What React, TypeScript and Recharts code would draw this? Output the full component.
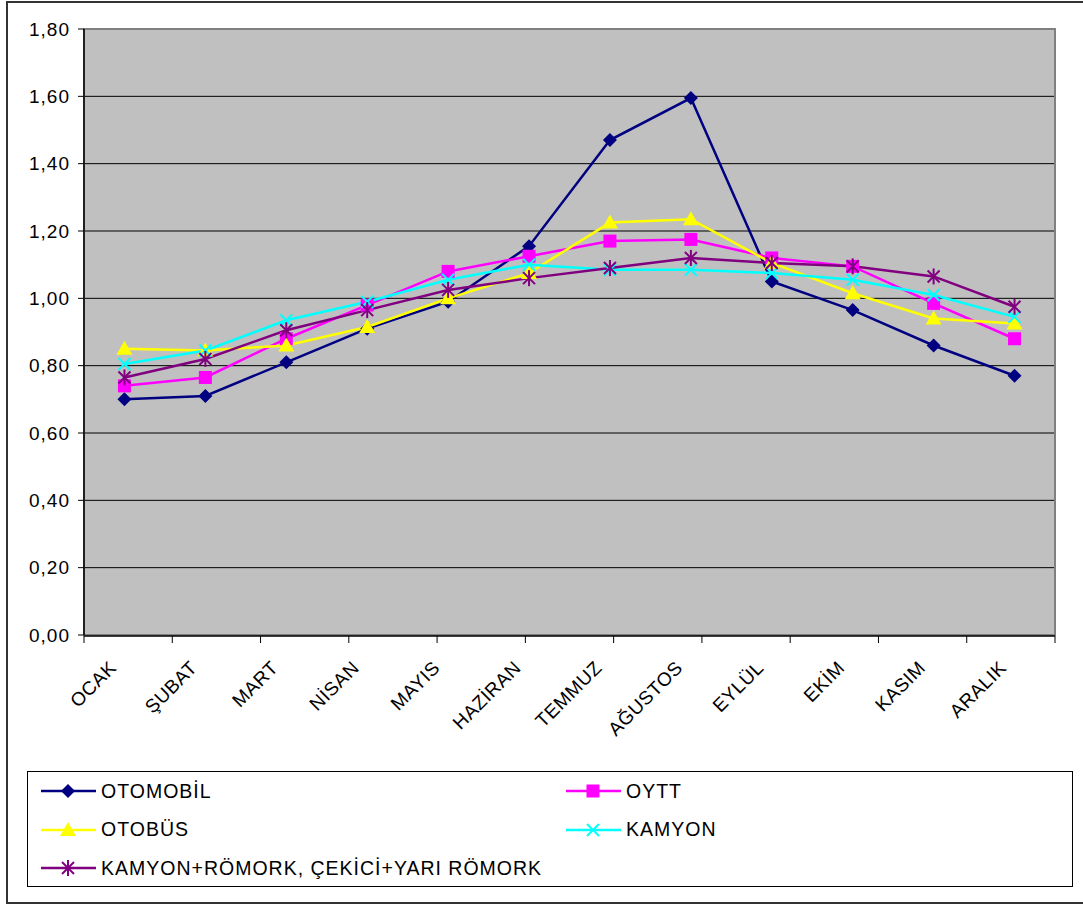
import React from "react";
import {
  CartesianGrid,
  Legend,
  Line,
  LineChart,
  ReferenceArea,
  XAxis,
  YAxis,
} from "recharts";

const months = ["OCAK", "ŞUBAT", "MART", "NİSAN", "MAYIS", "HAZİRAN", "TEMMUZ", "AĞUSTOS", "EYLÜL", "EKİM", "KASIM", "ARALIK"];
const otomobil = [0.70, 0.71, 0.81, 0.91, 0.99, 1.155, 1.47, 1.595, 1.05, 0.965, 0.86, 0.77];
const oytt = [0.74, 0.765, 0.88, 0.98, 1.08, 1.125, 1.17, 1.175, 1.12, 1.095, 0.985, 0.88];
const otobus = [0.85, 0.845, 0.86, 0.915, 1.0, 1.075, 1.225, 1.235, 1.105, 1.015, 0.94, 0.925];
const kamyon = [0.805, 0.845, 0.935, 0.99, 1.055, 1.10, 1.085, 1.085, 1.075, 1.055, 1.01, 0.945];
const kamyonRomork = [0.765, 0.82, 0.905, 0.965, 1.025, 1.06, 1.09, 1.12, 1.105, 1.095, 1.065, 0.975];

const yTicks = [0, 0.2, 0.4, 0.6, 0.8, 1.0, 1.2, 1.4, 1.6, 1.8];
const gridValues = [0.2, 0.4, 0.6, 0.8, 1.0, 1.2, 1.4, 1.6];
const edgeTicks = [0, 1, 2, 3, 4, 5, 6, 7, 8, 9, 10, 11, 12];

const series = [
  { key: "otomobil", name: "OTOMOBİL", color: "#000080", shape: "diamond", values: otomobil },
  { key: "oytt", name: "OYTT", color: "#FF00FF", shape: "square", values: oytt },
  { key: "otobus", name: "OTOBÜS", color: "#FFFF00", shape: "triangle", values: otobus },
  { key: "kamyon", name: "KAMYON", color: "#00FFFF", shape: "x", values: kamyon },
  { key: "kamyonRomork", name: "KAMYON+RÖMORK, ÇEKİCİ+YARI RÖMORK", color: "#800080", shape: "star", values: kamyonRomork },
];

const data = months.map((m, i) => {
  const row: Record<string, string | number> = { month: m };
  series.forEach((s) => (row[s.key] = s.values[i]));
  return row;
});

const FONT = "'Liberation Sans', Arial, sans-serif";

function Marker({ cx, cy, shape, color }: { cx: number; cy: number; shape: string; color: string }) {
  if (shape === "diamond")
    return <polygon points={`${cx},${cy - 7} ${cx + 7},${cy} ${cx},${cy + 7} ${cx - 7},${cy}`} fill={color} />;
  if (shape === "square") return <rect x={cx - 6.5} y={cy - 6.5} width={13} height={13} fill={color} />;
  if (shape === "triangle")
    return <polygon points={`${cx},${cy - 8} ${cx + 8},${cy + 6} ${cx - 8},${cy + 6}`} fill={color} />;
  if (shape === "x")
    return (
      <g stroke={color} strokeWidth={2}>
        <line x1={cx - 6} y1={cy - 6} x2={cx + 6} y2={cy + 6} />
        <line x1={cx - 6} y1={cy + 6} x2={cx + 6} y2={cy - 6} />
      </g>
    );
  return (
    <g stroke={color} strokeWidth={2}>
      <line x1={cx - 6} y1={cy - 6} x2={cx + 6} y2={cy + 6} />
      <line x1={cx - 6} y1={cy + 6} x2={cx + 6} y2={cy - 6} />
      <line x1={cx} y1={cy - 8} x2={cx} y2={cy + 8} />
    </g>
  );
}

const MonthTick = (props: any) => {
  const { x, y, payload } = props;
  const ax = x - 7;
  const ay = y + 34;
  return (
    <text
      x={ax}
      y={ay}
      transform={`rotate(-45 ${ax} ${ay})`}
      textAnchor="end"
      fontSize={19}
      letterSpacing={0.5}
      fontFamily={FONT}
      fill="#000"
    >
      {payload.value}
    </text>
  );
};

const LegendBox = () => (
  <div style={{ position: "relative", width: 1046, height: 116, border: "1px solid #000", boxSizing: "border-box", background: "#fff" }}>
    {series.map((s, i) => {
      const row = Math.floor(i / 2);
      const col = i % 2;
      return (
        <div
          key={s.key}
          style={{
            position: "absolute",
            left: 13 + col * 525,
            top: 19 + row * 38.5 - 12,
            height: 24,
            display: "flex",
            alignItems: "center",
            whiteSpace: "nowrap",
            fontFamily: FONT,
            fontSize: 19.5,
            letterSpacing: 1,
            color: "#000",
          }}
        >
          <svg width={60} height={24} style={{ display: "block" }}>
            <line x1={0} y1={12} x2={55} y2={12} stroke={s.color} strokeWidth={2.5} />
            <Marker cx={27} cy={12} shape={s.shape} color={s.color} />
          </svg>
          <span>{s.name}</span>
        </div>
      );
    })}
  </div>
);

export default function App() {
  return (
    <div style={{ position: "fixed", left: 0, top: 0, width: 1083, height: 906, background: "#fff", overflow: "hidden" }}>
      <div style={{ position: "absolute", left: 6, top: 1, width: 1100, height: 903, border: "2px solid #333", boxSizing: "border-box" }} />
      <div style={{ position: "absolute", left: 0, top: 0 }}>
        <LineChart width={1083} height={906} data={data} margin={{ top: 29, right: 28, left: 0, bottom: 141 }}>
          <CartesianGrid fill="#C0C0C0" vertical={false} stroke="#000" horizontalValues={gridValues} />
          <ReferenceArea y1={0} y2={1.8} fill="none" stroke="#808080" strokeWidth={2} />
          <XAxis
            dataKey="month"
            scale="band"
            interval={0}
            height={1}
            tickLine={false}
            axisLine={false}
            tickSize={0}
            tickMargin={0}
            tick={<MonthTick />}
          />
          <XAxis
            xAxisId="edge"
            type="number"
            domain={[0, 12]}
            ticks={edgeTicks}
            allowDataOverflow
            height={129}
            axisLine={{ stroke: "#000", strokeWidth: 1.5 }}
            tickLine={{ stroke: "#000" }}
            tickSize={7}
            tickFormatter={() => ""}
          />
          <YAxis
            width={84}
            domain={[0, 1.8]}
            ticks={yTicks}
            interval={0}
            tickSize={6}
            tickMargin={8}
            axisLine={{ stroke: "#000", strokeWidth: 1.5 }}
            tickLine={{ stroke: "#000" }}
            tick={{ fill: "#000", fontSize: 19, fontFamily: FONT, letterSpacing: 1 }}
            tickFormatter={(v: number) => v.toFixed(2).replace(".", ",")}
          />
          {series.map((s) => (
            <Line
              key={s.key}
              dataKey={s.key}
              name={s.name}
              type="linear"
              stroke={s.color}
              strokeWidth={2.5}
              isAnimationActive={false}
              dot={(p: any) => <Marker key={`${s.key}-${p.index}`} cx={p.cx} cy={p.cy} shape={s.shape} color={s.color} />}
              activeDot={false}
            />
          ))}
          <Legend
            layout="vertical"
            align="center"
            verticalAlign="middle"
            content={<LegendBox />}
            wrapperStyle={{ position: "absolute", left: 27, top: 771, width: 1046, height: 116 }}
          />
        </LineChart>
      </div>
    </div>
  );
}
